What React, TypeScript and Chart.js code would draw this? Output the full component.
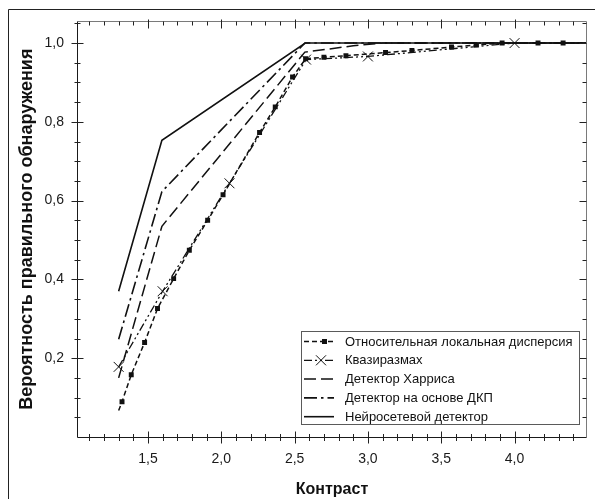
import React, { useEffect, useRef } from 'react';
import { Chart, registerables } from 'chart.js';

Chart.register(...registerables);

// ---- data ----
const seriesNames = [
  'Относительная локальная дисперсия',
  'Квазиразмах',
  'Детектор Харриса',
  'Детектор на основе ДКП',
  'Нейросетевой детектор',
];

const rldX = [1.3, 1.323, 1.386, 1.477, 1.565, 1.675, 1.782, 1.907, 2.012, 2.261, 2.368, 2.486, 2.575, 2.7, 2.85, 3.12, 3.3, 3.57, 3.74, 3.915, 4.16, 4.331, 4.494];
const rldY = [0.067, 0.0895, 0.158, 0.24, 0.326, 0.402, 0.474, 0.55, 0.615, 0.773, 0.838, 0.914, 0.96, 0.964, 0.968, 0.976, 0.981, 0.99, 0.995, 1.0, 1.0, 1.0, 1.0];

const kqX = [1.3, 1.6, 2.056, 2.578, 3.0, 4.0, 4.494];
const kqY = [0.178, 0.37, 0.644, 0.958, 0.966, 1.0, 1.0];

const harrisX = [1.3, 1.595, 2.57, 2.9, 3.1, 4.494];
const harrisY = [0.15, 0.535, 0.977, 0.993, 1.0, 1.0];

const dctX = [1.3, 1.595, 2.57, 4.494];
const dctY = [0.248, 0.623, 1.0, 1.0];

const nnX = [1.3, 1.595, 2.573, 4.494];
const nnY = [0.37, 0.753, 1.0, 1.0];

const xTicks = [1.5, 2.0, 2.5, 3.0, 3.5, 4.0];
const yTicks = [0.2, 0.4, 0.6, 0.8, 1.0];

const xTitle = 'Контраст';
const yTitle = 'Вероятность правильного обнаружения';

const FONT = "'Liberation Sans', Arial, Helvetica, sans-serif";

const toPts = (xs: number[], ys: number[]) => xs.map((x, i) => ({ x, y: ys[i] }));
const fmt = (v: number) => v.toFixed(1).replace('.', ',');

const decorPlugin = {
  id: 'decor',
  afterDatasetsDraw(chart: any) {
    const ctx = chart.ctx;
    const xs = chart.scales.x;
    const ys = chart.scales.y;
    const { left, right, top, bottom } = chart.chartArea;
    const L = Math.round(left) + 0.5;
    const R = Math.round(right) - 0.5;
    const T = Math.round(top) + 0.5;
    const B = Math.round(bottom) + 0.5;
    ctx.save();
    ctx.lineWidth = 1;
    ctx.strokeStyle = '#7a7a7a';
    ctx.beginPath();
    ctx.moveTo(L, T);
    ctx.lineTo(R, T);
    ctx.lineTo(R, B);
    ctx.stroke();
    ctx.strokeStyle = '#1a1a1a';
    ctx.beginPath();
    ctx.moveTo(L, T);
    ctx.lineTo(L, B);
    ctx.lineTo(R, B);
    ctx.stroke();
    ctx.strokeStyle = '#222';
    ctx.beginPath();
    for (let k = 11; k <= 44; k++) {
      const v = k / 10;
      const px = Math.round(xs.getPixelForValue(v)) + 0.5;
      const major = k % 5 === 0;
      ctx.moveTo(px, B - (major ? 6 : 3.5));
      ctx.lineTo(px, B + (major ? 6 : 3.5));
      ctx.moveTo(px, T - (major ? 2 : 0));
      ctx.lineTo(px, T + (major ? 7 : 4));
    }
    for (let k = 1; k <= 21; k++) {
      const v = k * 0.05;
      const py = Math.round(ys.getPixelForValue(v)) + 0.5;
      const major = k % 4 === 0;
      ctx.moveTo(L - (major ? 6 : 3), py);
      ctx.lineTo(L + (major ? 6 : 3), py);
      ctx.moveTo(R - (major ? 7 : 4), py);
      ctx.lineTo(R, py);
    }
    ctx.stroke();
    ctx.restore();
  },
  afterDraw(chart: any) {
    const ctx = chart.ctx;
    ctx.save();
    ctx.strokeStyle = '#222';
    ctx.lineWidth = 1;
    ctx.beginPath();
    ctx.moveTo(8.5, chart.height);
    ctx.lineTo(8.5, 9.5);
    ctx.lineTo(chart.width, 9.5);
    ctx.stroke();

    const bx = 301.5, by = 331.5, bw = 278, bh = 93;
    ctx.fillStyle = '#fff';
    ctx.fillRect(bx, by, bw, bh);
    ctx.strokeStyle = '#5a5a5a';
    ctx.strokeRect(bx, by, bw, bh);
    chart.data.datasets.forEach((ds: any, i: number) => {
      const cy = 341.5 + i * 18.8;
      ctx.strokeStyle = ds.borderColor;
      ctx.lineWidth = ds.borderWidth;
      ctx.setLineDash(ds.borderDash || []);
      ctx.beginPath();
      ctx.moveTo(304, cy);
      ctx.lineTo(334, cy);
      ctx.stroke();
      ctx.setLineDash([]);
      if (ds.pointStyle === 'rect') {
        ctx.fillStyle = '#111';
        ctx.fillRect(322, cy - 2.5, 5, 5);
      } else if (ds.pointStyle === 'crossRot') {
        ctx.lineWidth = 1;
        ctx.beginPath();
        ctx.moveTo(316, cy - 5);
        ctx.lineTo(326, cy + 5);
        ctx.moveTo(326, cy - 5);
        ctx.lineTo(316, cy + 5);
        ctx.stroke();
      }
      ctx.fillStyle = '#111';
      ctx.font = `13px ${FONT}`;
      ctx.textBaseline = 'middle';
      ctx.textAlign = 'left';
      ctx.fillText(ds.label, 345, cy + 0.5);
    });
    ctx.restore();
  },
};

export default function App() {
  const ref = useRef<HTMLCanvasElement | null>(null);

  useEffect(() => {
    if (!ref.current) return;
    const common = {
      showLine: true,
      fill: false,
      tension: 0,
      borderColor: '#111',
      backgroundColor: '#111',
      pointBorderColor: '#111',
      pointBackgroundColor: '#111',
    };
    const chart = new Chart(ref.current, {
      type: 'scatter',
      data: {
        datasets: [
          {
            ...common,
            label: seriesNames[0],
            data: toPts(rldX, rldY),
            borderWidth: 1.5,
            borderDash: [5, 3],
            pointStyle: 'rect',
            pointRadius: (c: any) => (c.dataIndex === 0 || c.dataIndex === rldX.length - 1 ? 0 : 3.5),
            pointBorderWidth: 0,
          },
          {
            ...common,
            label: seriesNames[1],
            data: toPts(kqX, kqY),
            borderWidth: 1.3,
            borderDash: [8, 3, 2, 3, 2, 3],
            pointStyle: 'crossRot',
            pointRadius: (c: any) => (c.dataIndex === kqX.length - 1 ? 0 : 7),
            pointBorderWidth: 1,
          },
          {
            ...common,
            label: seriesNames[2],
            data: toPts(harrisX, harrisY),
            borderWidth: 1.5,
            borderDash: [12, 5],
            pointRadius: 0,
          },
          {
            ...common,
            label: seriesNames[3],
            data: toPts(dctX, dctY),
            borderWidth: 1.6,
            borderDash: [13, 4, 2.5, 4],
            pointRadius: 0,
          },
          {
            ...common,
            label: seriesNames[4],
            data: toPts(nnX, nnY),
            borderWidth: 1.6,
            pointRadius: 0,
          },
        ],
      } as any,
      options: {
        animation: false,
        responsive: false,
        devicePixelRatio: 1,
        layout: { padding: { left: 0, top: 20, right: 8, bottom: 0 } },
        plugins: { legend: { display: false }, tooltip: { enabled: false } },
        scales: {
          x: {
            type: 'linear',
            min: 1.016,
            max: 4.494,
            afterBuildTicks: (s: any) => {
              s.ticks = xTicks.map((v) => ({ value: v }));
            },
            afterFit: (s: any) => {
              s.height = 62;
            },
            grid: { display: false, drawTicks: false },
            border: { display: false },
            ticks: {
              padding: 14,
              autoSkip: false,
              maxRotation: 0,
              color: '#1a1a1a',
              font: { size: 14, family: FONT },
              callback: (v: any) => fmt(Number(v)),
            },
            title: {
              display: true,
              text: xTitle,
              color: '#111',
              font: { size: 16, weight: 'bold', family: FONT },
              padding: { top: 0, bottom: 0 },
            },
          },
          y: {
            type: 'linear',
            min: 0,
            max: 1.055,
            afterBuildTicks: (s: any) => {
              s.ticks = yTicks.map((v) => ({ value: v }));
            },
            afterFit: (s: any) => {
              s.width = 77;
            },
            grid: { display: false, drawTicks: false },
            border: { display: false },
            ticks: {
              padding: 13,
              autoSkip: false,
              color: '#1a1a1a',
              font: { size: 14, family: FONT },
              callback: (v: any) => fmt(Number(v)),
            },
            title: {
              display: true,
              text: yTitle,
              color: '#111',
              font: { size: 18, weight: 'bold', family: FONT },
              padding: { top: 16, bottom: 0 },
            },
          },
        },
      } as any,
      plugins: [decorPlugin],
    });
    return () => chart.destroy();
  }, []);

  return (
    <div style={{ position: 'absolute', left: 0, top: 0, width: 595, height: 499, background: '#fff' }}>
      <canvas ref={ref} width={595} height={499} style={{ display: 'block', width: 595, height: 499 }} />
    </div>
  );
}
